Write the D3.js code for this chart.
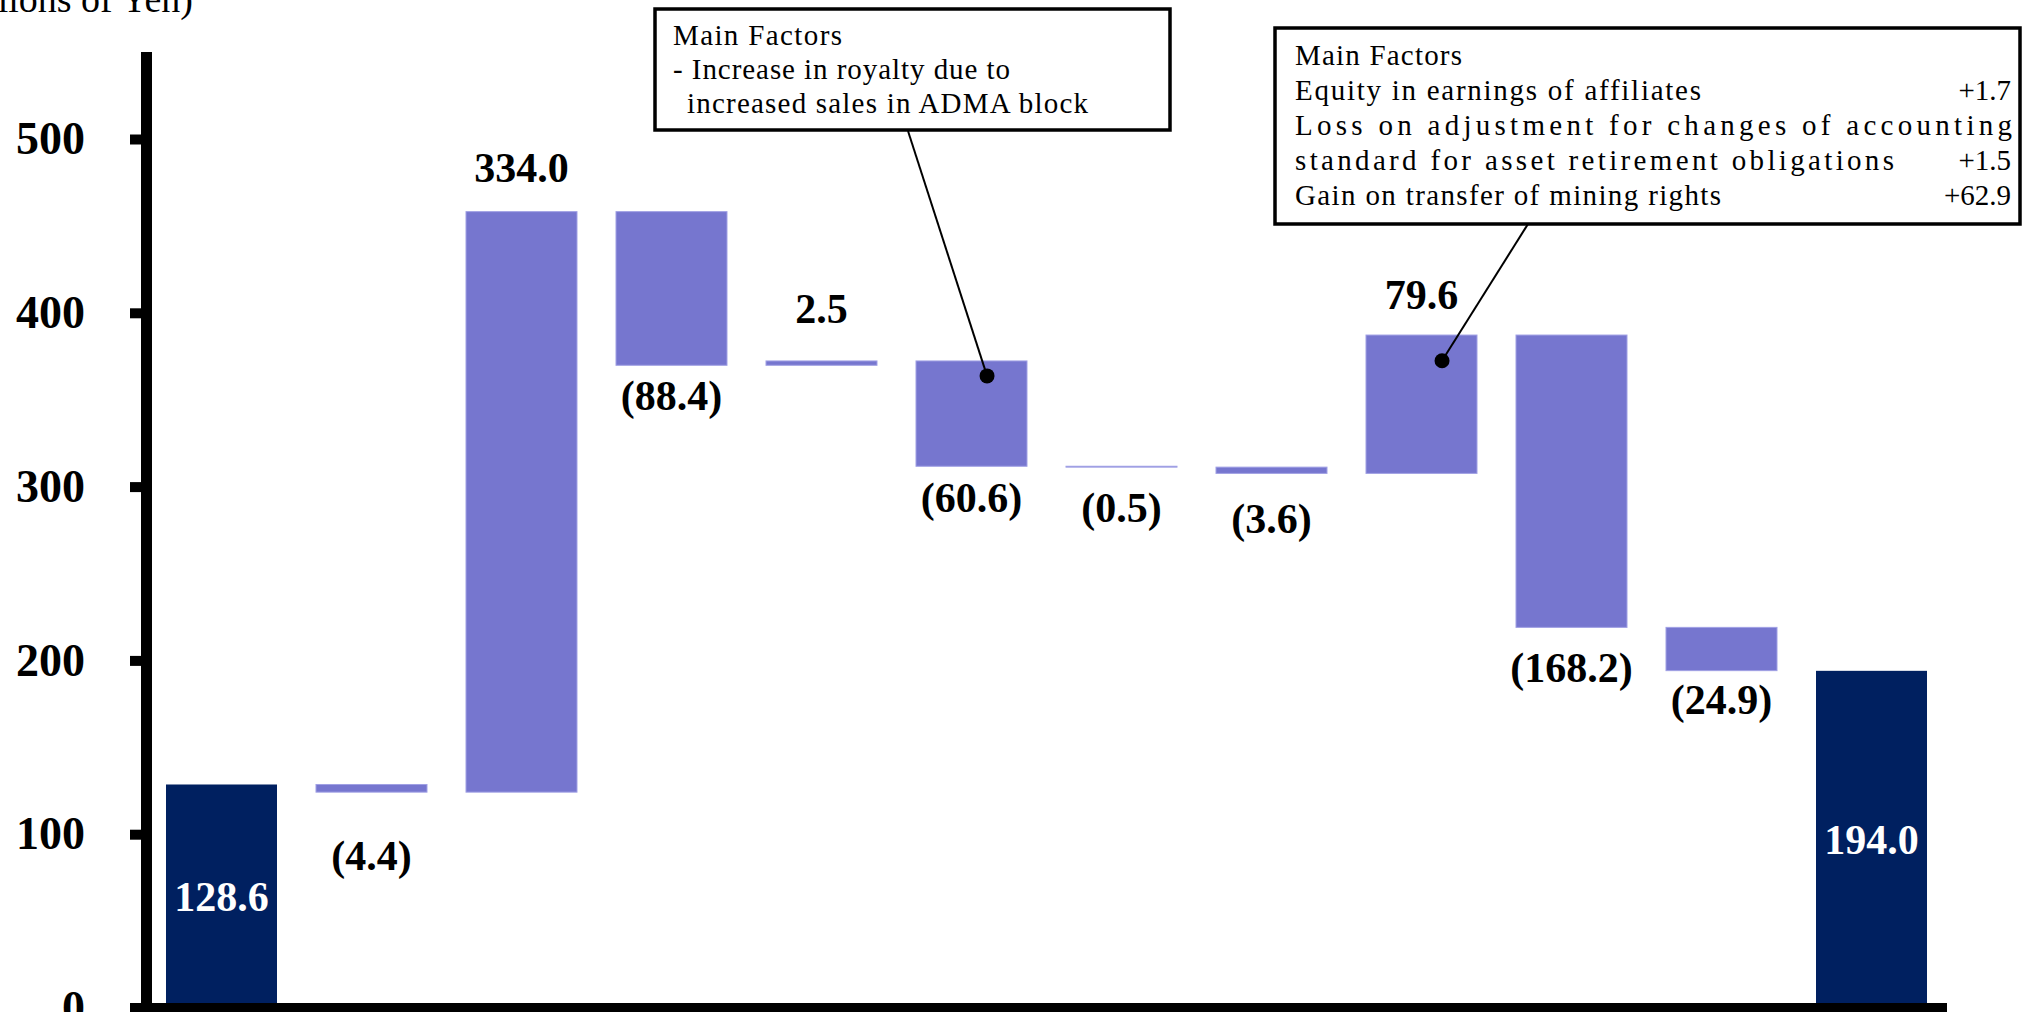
<!DOCTYPE html>
<html>
<head>
<meta charset="utf-8">
<script src="https://cdn.jsdelivr.net/npm/d3@7"></script>
<style>
  html, body { margin: 0; padding: 0; background: #fff; overflow: hidden; }
  svg { display: block; }
</style>
</head>
<body>
<svg id="chart" width="2024" height="1012"></svg>
<script>
// ---- data (billions of yen) ----
const categories = ["s0", "s1", "s2", "s3", "s4", "s5", "s6", "s7", "s8", "s9", "s10", "s11"];
const startValue = 128.6;
const deltas = [-4.4, 334.0, -88.4, 2.5, -60.6, -0.5, -3.6, 79.6, -168.2, -24.9];
const endValue = 194.0;
const yTicks = [0, 100, 200, 300, 400, 500];
const axisTitle = "(Billions of Yen)";

const noteOneLines = ["Main Factors", "- Increase in royalty due to", "increased sales in ADMA block"];
const noteTwoLines = [
  "Main Factors",
  "Equity in earnings of affiliates",
  "Loss on adjustment for changes of accounting",
  "standard for asset retirement obligations",
  "Gain on transfer of mining rights"
];
const noteTwoValues = ["", "+1.7", "", "+1.5", "+62.9"];

// ---- layout ----
const W = 2024, H = 1012;
const serif = "'Liberation Serif', 'Times New Roman', serif";
const lightFill = "#7676cf", lightEdge = "#a0a0e4", darkFill = "#002060";
// distance from bar edge to the value label baseline
const labelGaps = [0, 78, 30, 45, 38, 46, 55, 60, 26, 55, 43, 0];

const svg = d3.select("#chart");

const x = d3.scaleBand()
  .domain(categories)
  .range([152, 1941])
  .paddingInner(0.26)
  .paddingOuter(0.0933);

const y = d3.scaleLinear().domain([0, 500]).range([1008, 139]);

// waterfall rows built from the start value and the step changes
const rows = [];
let running = startValue;
rows.push({ key: categories[0], total: true, lo: 0, hi: startValue, value: startValue });
deltas.forEach((d, i) => {
  const next = running + d;
  rows.push({ key: categories[i + 1], total: false, lo: Math.min(running, next), hi: Math.max(running, next), value: d });
  running = next;
});
rows.push({ key: categories[categories.length - 1], total: true, lo: 0, hi: endValue, value: endValue });

// bars
svg.append("g").selectAll("rect")
  .data(rows)
  .join("rect")
  .attr("x", d => x(d.key))
  .attr("width", x.bandwidth())
  .attr("y", d => y(d.hi))
  .attr("height", d => Math.max(0.8, y(d.lo) - y(d.hi)))
  .attr("fill", d => d.total ? darkFill : lightFill)
  .attr("stroke", d => d.total ? "none" : lightEdge)
  .attr("stroke-width", 1);

// value labels
const fmt = v => v < 0 ? `(${d3.format(".1f")(-v)})` : d3.format(".1f")(v);
svg.append("g").selectAll("text")
  .data(rows)
  .join("text")
  .attr("x", d => x(d.key) + x.bandwidth() / 2)
  .attr("y", (d, i) => {
    if (d.total) return (y(d.lo) + y(d.hi)) / 2 + 14.5;
    return d.value >= 0 ? y(d.hi) - labelGaps[i] : y(d.lo) + labelGaps[i];
  })
  .attr("text-anchor", "middle")
  .attr("font-family", serif)
  .attr("font-weight", "bold")
  .attr("font-size", 42)
  .attr("fill", d => d.total ? "#fff" : "#000")
  .text(d => fmt(d.value));

// y axis
const yAxis = svg.append("g")
  .attr("transform", "translate(141,0)")
  .call(d3.axisLeft(y).tickValues(yTicks).tickSize(11).tickPadding(45).tickFormat(d3.format("d")));
yAxis.select(".domain").remove();
yAxis.selectAll(".tick line").attr("stroke", "#000").attr("stroke-width", 10);
yAxis.selectAll(".tick text")
  .attr("fill", "#000")
  .attr("font-family", serif)
  .attr("font-weight", "bold")
  .attr("font-size", 46);

// heavy axis lines
svg.append("rect").attr("x", 141).attr("y", 52).attr("width", 11).attr("height", H - 52).attr("fill", "#000");
svg.append("rect").attr("x", 130).attr("y", y(0) - 5).attr("width", 1947 - 130).attr("height", 12).attr("fill", "#000");

// axis title
svg.append("text")
  .attr("x", 193).attr("y", 12)
  .attr("text-anchor", "end")
  .attr("font-family", serif)
  .attr("font-size", 38)
  .attr("fill", "#000")
  .text(axisTitle);

// ---- callouts ----
function leader(fromX, fromY, key, frac, value) {
  const tx = x(key) + x.bandwidth() * frac;
  const ty = y(value);
  svg.append("line")
    .attr("x1", fromX).attr("y1", fromY).attr("x2", tx).attr("y2", ty)
    .attr("stroke", "#000").attr("stroke-width", 2);
  svg.append("circle").attr("cx", tx).attr("cy", ty).attr("r", 7.5).attr("fill", "#000");
}

leader(908, 131, categories[5], 0.64, 363.7);
leader(1528, 224, categories[8], 0.685, 372.4);

function box(x0, y0, x1, y1) {
  svg.append("rect")
    .attr("x", x0).attr("y", y0).attr("width", x1 - x0).attr("height", y1 - y0)
    .attr("fill", "#fff").attr("stroke", "#000").attr("stroke-width", 3.5);
}

function noteText(tx, ty, str, width, anchor) {
  const t = svg.append("text")
    .attr("x", tx).attr("y", ty)
    .attr("font-family", serif)
    .attr("font-size", 29)
    .attr("fill", "#000")
    .attr("text-anchor", anchor || "start")
    .text(str);
  if (width) t.attr("textLength", width).attr("lengthAdjust", "spacing");
  return t;
}

// first callout
box(655, 9, 1170, 130);
const oneX = [673, 673, 687];
const oneW = [169, 337, 401];
noteOneLines.forEach((s, i) => noteText(oneX[i], 45 + 34 * i, s, oneW[i]));

// second callout
box(1275, 28, 2020, 224);
const twoW = [167, 406, 717, 599, 426];
noteTwoLines.forEach((s, i) => noteText(1295, 65 + 35 * i, s, twoW[i]));
noteTwoValues.forEach((s, i) => { if (s) noteText(2011, 65 + 35 * i, s, null, "end"); });
</script>
</body>
</html>
